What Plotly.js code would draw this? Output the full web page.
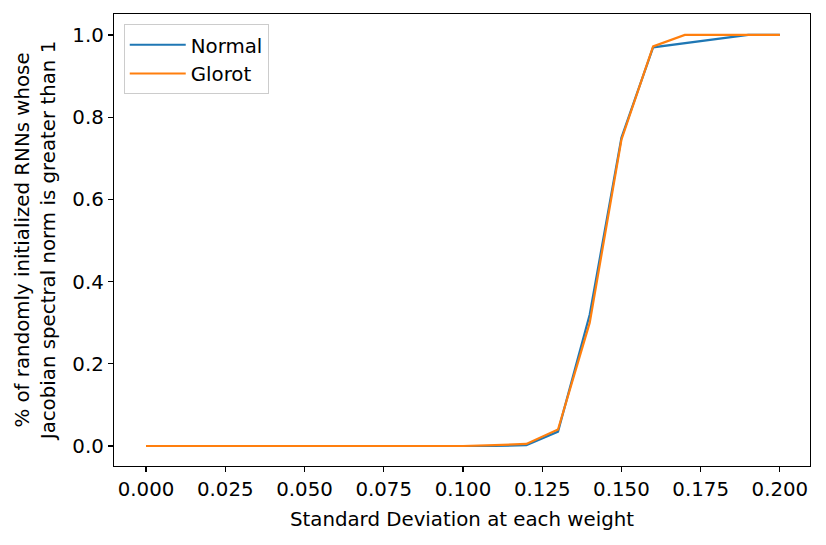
<!DOCTYPE html>
<html><head><meta charset="utf-8">
<script src="https://cdn.plot.ly/plotly-3.0.1.min.js"></script>
<style>body{margin:0;background:#fff}#c{width:826px;height:545px}</style>
</head><body><div id="c"></div>
<script>
const stdDev = [0.00,0.01,0.02,0.03,0.04,0.05,0.06,0.07,0.08,0.09,0.10,0.11,0.12,0.13,0.14,0.15,0.16,0.17,0.18,0.19,0.20];
const normal = [0,0,0,0,0,0,0,0,0,0,0,0,0.002,0.035,0.32,0.75,0.970,0.980,0.990,1.0,1.0];
const glorot = [0,0,0,0,0,0,0,0,0,0,0,0.002,0.005,0.040,0.30,0.745,0.972,1.0,1.0,1.0,1.0];
const xTicks = [0,0.025,0.05,0.075,0.1,0.125,0.15,0.175,0.2];
const xTickText = ['0.000','0.025','0.050','0.075','0.100','0.125','0.150','0.175','0.200'];
const yTicks = [0,0.2,0.4,0.6,0.8,1.0];
const yTickText = ['0.0','0.2','0.4','0.6','0.8','1.0'];
const font = {family:'DejaVu Sans', size:19.8, color:'#000'};
const data = [
 {x:stdDev, y:normal, name:'Normal', mode:'lines', line:{color:'#1f77b4', width:2.2}},
 {x:stdDev, y:glorot, name:'Glorot', mode:'lines', line:{color:'#ff7f0e', width:2.2}}
];
const axisCommon = {showgrid:false, zeroline:false, showline:true, linecolor:'#000', linewidth:1.2, mirror:true,
  ticks:'outside', ticklen:5, tickwidth:1.2, tickcolor:'#000', tickfont:font};
const layout = {
 width:826, height:545, paper_bgcolor:'#fff', plot_bgcolor:'#fff',
 margin:{l:114, r:16, t:14, b:79}, font:font, showlegend:true,
 xaxis:Object.assign({}, axisCommon, {range:[-0.0101,0.2095], tickvals:xTicks, ticktext:xTickText,
   title:{text:'Standard Deviation at each weight', font:font, standoff:12}}),
 yaxis:Object.assign({}, axisCommon, {range:[-0.0487,1.051], tickvals:yTicks, ticktext:yTickText,
   title:{text:'% of randomly initialized RNNs whose<br>Jacobian spectral norm is greater than 1', font:font, standoff:11}}),
 legend:{x:0.014, y:0.977, xanchor:'left', yanchor:'top', bgcolor:'rgba(255,255,255,0.8)',
   bordercolor:'#cccccc', borderwidth:1, font:font, tracegroupgap:0, itemwidth:56}
};
Plotly.newPlot('c', data, layout, {displayModeBar:false, staticPlot:true});
</script></body></html>
